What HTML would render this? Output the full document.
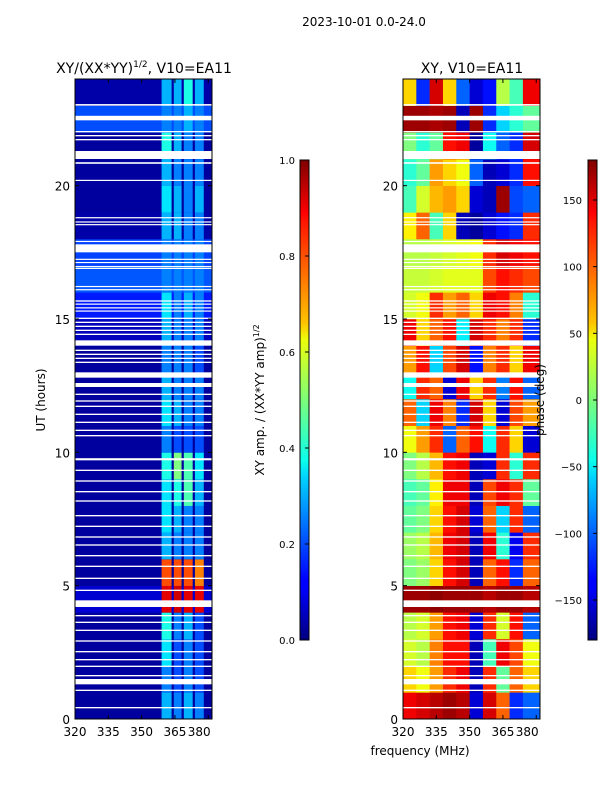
<!DOCTYPE html>
<html><head><meta charset="utf-8"><style>
html,body{margin:0;padding:0;background:#fff;}
svg{display:block;font-family:"DejaVu Sans","Liberation Sans",sans-serif;}
</style></head><body>
<svg id="fig" width="600" height="800" xmlns="http://www.w3.org/2000/svg">
<defs>
<linearGradient id="jet" x1="0" y1="1" x2="0" y2="0">
<stop offset="0" stop-color="#00007f"/><stop offset="0.11" stop-color="#0000ff"/><stop offset="0.125" stop-color="#0000ff"/>
<stop offset="0.34" stop-color="#00d4ff"/><stop offset="0.375" stop-color="#0cffeb"/><stop offset="0.5" stop-color="#7cff79"/>
<stop offset="0.625" stop-color="#ebff0c"/><stop offset="0.66" stop-color="#ffc400"/><stop offset="0.875" stop-color="#ff1300"/>
<stop offset="0.89" stop-color="#ff0000"/><stop offset="1" stop-color="#7f0000"/>
</linearGradient>
</defs>
<text x="364" y="26" font-size="12" text-anchor="middle">2023-10-01 0.0-24.0</text>
<text x="144" y="73" font-size="14" text-anchor="middle">XY/(XX*YY)<tspan font-size="9" dy="-6">1/2</tspan><tspan dy="6">, V10=EA11</tspan></text>
<text x="472" y="73" font-size="14" text-anchor="middle">XY, V10=EA11</text>
<g id="left"></g>
<g id="right"></g>
<g id="axes"></g>
<text x="45" y="400" font-size="12" text-anchor="middle" transform="rotate(-90 45 400)">UT (hours)</text>
<text x="420" y="755" font-size="12" text-anchor="middle">frequency (MHz)</text>
<rect x="300" y="160" width="9" height="480" fill="url(#jet)" stroke="#000" stroke-width="1"/>
<rect x="588" y="160" width="9" height="480" fill="url(#jet)" stroke="#000" stroke-width="1"/>
<text x="264" y="400" font-size="12" text-anchor="middle" transform="rotate(-90 264 400)">XY amp. / (XX*YY amp)<tspan font-size="8" dy="-5">1/2</tspan></text>
<text x="544" y="400" font-size="12" text-anchor="middle" transform="rotate(-90 544 400)">phase (deg)</text>
<g id="cb"></g>
</svg>
<script>
const hours = [0,1,2,3,4,5,6,7,8,9,10,11,12,13,14,15,16,17,18,19,20,21,22,23];
const ampBackground = [0.03,0.03,0.03,0.03,0.08,0.03,0.03,0.03,0.03,0.03,0.03,0.03,0.03,0.03,0.06,0.15,0.21,0.19,0.04,0.03,0.03,0.03,0.2,0.04];
const stripeFreqs = [[359,363.5],[364.5,368],[369,373],[374,378]];
const ampStripes = [
[0.3,0.25,0.3,0.25],[0.25,0.2,0.25,0.2],[0.35,0.2,0.25,0.2],[0.4,0.25,0.3,0.2],
[0.9,0.92,0.9,0.9],[0.8,0.8,0.8,0.75],[0.3,0.25,0.25,0.25],[0.35,0.3,0.25,0.25],
[0.35,0.4,0.45,0.3],[0.4,0.5,0.45,0.35],[0.25,0.2,0.2,0.2],[0.35,0.3,0.25,0.25],
[0.3,0.25,0.25,0.25],[0.25,0.25,0.25,0.2],[0.3,0.25,0.25,0.25],[0.35,0.25,0.3,0.25],
[0.25,0.25,0.25,0.25],[0.25,0.25,0.25,0.25],[0.3,0.3,0.25,0.25],[0.35,0.3,0.25,0.3],
[0.3,0.25,0.25,0.25],[0.4,0.3,0.25,0.25],[0.25,0.25,0.3,0.25],[0.3,0.3,0.4,0.3]];
const phaseFreqEdges = [320,326,332,338,344,350,356,362,368,374,382];
const phase = [
[140,150,160,170,160,-150,150,100,-120,-100],[60,40,80,120,140,-160,120,-10,100,60],
[30,20,90,130,130,-160,-20,140,110,40],[20,30,80,130,140,-150,120,30,130,-100],
[170,170,175,170,170,170,160,170,170,160],[0,10,60,130,150,-160,100,130,-120,100],
[10,20,70,140,150,-160,140,-30,-140,120],[-10,0,60,130,150,-150,100,-60,120,-100],
[-20,-10,50,140,140,-160,110,140,120,-10],[0,20,70,130,140,-160,-150,120,-30,120],
[40,80,120,-100,100,130,-40,120,60,-150],[100,-60,140,90,-120,150,60,-150,110,80],
[-40,120,100,-150,140,60,120,-90,130,-100],[80,130,-60,110,150,-130,90,120,60,140],
[140,60,100,130,-50,150,120,90,120,-120],[30,40,120,80,100,60,140,130,90,-30],
[25,25,30,35,35,35,110,130,120,110],[20,20,25,30,35,40,120,150,140,130],
[50,100,-20,60,-160,-170,-150,-130,-120,120],[-20,30,70,80,60,-150,-160,170,-110,-100],
[-30,-10,80,60,40,-100,-160,-150,-120,130],[0,-30,-10,130,140,-170,-40,-100,-120,150],
[170,170,165,170,-160,170,-120,-60,-30,-10],[60,-120,150,60,-100,-150,-130,20,-20,140]];
const gaps = [[23.0,23.06],[22.45,22.62],[22.0,22.05],[21.85,21.9],[21.7,21.75],[21.0,21.3],[20.82,20.88],[20.18,20.22],[18.78,18.82],[18.62,18.66],[18.52,18.56],[17.9,17.93],[17.5,17.8],[17.22,17.26],[17.1,17.14],[16.95,16.99],[16.88,16.92],[16.2,16.24],[16.08,16.12],[15.65,15.7],[15.55,15.58],[15.4,15.44],[15.28,15.32],[15.0,15.05],[14.85,14.9],[14.7,14.75],[14.55,14.6],[14.4,14.45],[14.0,14.2],[13.8,13.85],[13.65,13.7],[13.5,13.55],[13.35,13.4],[12.8,13.0],[12.45,12.6],[12.15,12.2],[11.9,11.95],[11.7,11.75],[11.4,11.45],[11.1,11.15],[10.8,10.85],[10.6,10.65],[9.7,9.78],[9.3,9.35],[8.9,8.95],[8.5,8.55],[8.15,8.2],[7.6,7.65],[7.2,7.25],[6.8,6.85],[6.5,6.55],[6.1,6.15],[5.7,5.75],[5.25,5.3],[4.8,4.85],[4.2,4.45],[3.85,3.9],[3.6,3.65],[3.3,3.35],[2.9,2.95],[2.5,2.55],[2.2,2.25],[1.95,2.0],[1.6,1.65],[1.3,1.5],[1.05,1.1],[0.4,0.45]];
const xTicks = [320,335,350,365,380];
const yTicks = [0,5,10,15,20];
const ampTicks = [0.0,0.2,0.4,0.6,0.8,1.0];
const phaseTicks = [-150,-100,-50,0,50,100,150];

const NS='http://www.w3.org/2000/svg';
const FMIN=320,FMAX=381.7,Y0=719,Y1=79;
const yS=h=>Y0-(h/24)*(Y0-Y1);
const xS=(f,x0)=>x0+(f-FMIN)/(FMAX-FMIN)*137;
function jet(v){v=Math.max(0,Math.min(1,v));
 const c=x=>Math.round(255*Math.max(0,Math.min(1,1.5-Math.abs(4*v-x))));
 return `rgb(${c(3)},${c(2)},${c(1)})`;}
function mk(tag,attrs,parent){const e=document.createElementNS(NS,tag);for(const k in attrs)e.setAttribute(k,attrs[k]);parent.appendChild(e);return e;}
const L=document.getElementById('left'),R=document.getElementById('right'),A=document.getElementById('axes'),CB=document.getElementById('cb');
hours.forEach((h,i)=>{
 const yt=yS(h+1),yb=yS(h);
 let r=mk('rect',{x:xS(FMIN,75),y:yt,width:137,height:yb-yt+0.3,fill:jet(ampBackground[i])},L);
 
 
 stripeFreqs.forEach((sf,j)=>{
  const x0=xS(sf[0],75),x1=xS(sf[1],75);
  let s=mk('rect',{x:x0,y:yt,width:x1-x0,height:yb-yt+0.3,fill:jet(ampStripes[i][j])},L);
  
  
 });
 for(let j=0;j<phaseFreqEdges.length-1;j++){
  const x0=xS(phaseFreqEdges[j],403),x1=Math.min(xS(phaseFreqEdges[j+1],403),540);
  let p=mk('rect',{x:x0,y:yt,width:x1-x0+0.3,height:yb-yt+0.3,fill:jet((phase[i][j]+180)/360)},R);
  
  
 }
});
gaps.forEach(g=>{
 [75,403].forEach(x0=>{
  const yt=yS(g[1]),yb=yS(g[0]);
  let w=mk('rect',{x:x0,y:yt,width:137,height:Math.max(1.2,yb-yt),fill:'#fff'},x0===75?L:R);
  
  
 });
});
[75,403].forEach(x0=>{
 let f=mk('rect',{x:x0,y:Y1,width:137,height:Y0-Y1,fill:'none',stroke:'#000','stroke-width':1},A);
 
 
 xTicks.forEach(t=>{
  const x=xS(t,x0);
  mk('line',{x1:x,y1:Y0,x2:x,y2:Y0-4,stroke:'#000'},A);
  mk('line',{x1:x,y1:Y1,x2:x,y2:Y1+4,stroke:'#000'},A);
  let tx=mk('text',{x:t===380?x-9:x,y:Y0+17,'font-size':12,'text-anchor':'middle'},A);
  tx.textContent=t;
  
  
 });
 yTicks.forEach(t=>{
  const y=yS(t);
  mk('line',{x1:x0,y1:y,x2:x0+4,y2:y,stroke:'#000'},A);
  mk('line',{x1:x0+137,y1:y,x2:x0+133,y2:y,stroke:'#000'},A);
  let tx=mk('text',{x:x0-5,y:y+5,'font-size':12,'text-anchor':'end'},A);
  tx.textContent=t;
  
  
 });
});
ampTicks.forEach(t=>{
 const y=640-t*480;
 mk('line',{x1:305,y1:y,x2:309,y2:y,stroke:'#000'},CB);
 let tx=mk('text',{x:295,y:y+4,'font-size':10,'text-anchor':'end'},CB);
 tx.textContent=t.toFixed(1);
 
 
});
phaseTicks.forEach(t=>{
 const y=400-t*480/360;
 mk('line',{x1:593,y1:y,x2:597,y2:y,stroke:'#000'},CB);
 let tx=mk('text',{x:582,y:y+4,'font-size':10,'text-anchor':'end'},CB);
 tx.textContent=t<0?'\u2212'+(-t):t;
 
 
});
</script>
</body></html>
